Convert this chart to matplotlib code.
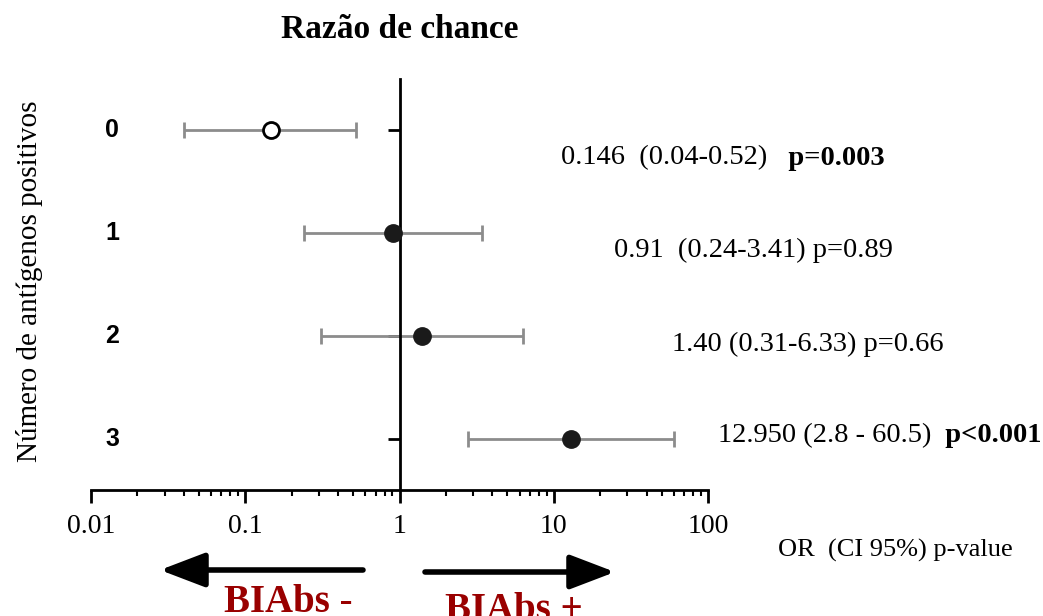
import matplotlib
matplotlib.use("Agg")
import matplotlib.pyplot as plt

# data
categories = ["0", "1", "2", "3"]
odds_ratio = [0.146, 0.91, 1.40, 12.95]
ci_low = [0.04, 0.24, 0.31, 2.8]
ci_high = [0.52, 3.41, 6.33, 60.5]
open_marker = [True, False, False, False]
or_text = ["0.146  (0.04-0.52)", "0.91  (0.24-3.41) p=0.89",
           "1.40 (0.31-6.33) p=0.66", "12.950 (2.8 - 60.5)"]
p_bold = ["   p=0.003", "", "", "  p<0.001"]
xticks = [0.01, 0.1, 1, 10, 100]
xtick_labels = ["0.01", "0.1", "1", "10", "100"]

W, H = 1043, 616
serif = "Liberation Serif"

fig = plt.figure(figsize=(W / 100, H / 100), dpi=100)
ax = fig.add_axes([91 / W, 1 - 490 / H, 617 / W, 411 / H])

ax.set_xscale("log")
ax.set_xlim(0.01, 100)
ax.set_ylim(3.5, -0.5)

for i, (o, lo, hi) in enumerate(zip(odds_ratio, ci_low, ci_high)):
    ax.errorbar(o, i, xerr=[[o - lo], [hi - o]], fmt="none", ecolor="#8c8c8c",
                elinewidth=2, capsize=6, capthick=2, zorder=2)
    if open_marker[i]:
        ax.plot(o, i, "o", ms=11.5, mfc="white", mec="black", mew=2, zorder=3)
    else:
        ax.plot(o, i, "o", ms=12.5, color="#1a1a1a", zorder=3)

# spines
for s in ["top", "right"]:
    ax.spines[s].set_visible(False)
ax.spines["left"].set_position(("data", 1))
ax.spines["left"].set_linestyle((0, (2, 1)))
ax.spines["left"].set_linewidth(2)
ax.spines["bottom"].set_linewidth(2)

ax.set_yticks(range(len(categories)))
ax.set_yticklabels([])
ax.tick_params(axis="y", length=9, width=2, direction="out")
ax.set_xticks(xticks)
ax.set_xticklabels(xtick_labels, fontfamily=serif, fontsize=20)
ax.tick_params(axis="x", which="major", length=9, width=2, pad=8)
ax.tick_params(axis="x", which="minor", length=4.5, width=1.5)

for i, c in enumerate(categories):
    ax.text(0.034, i, c, transform=ax.get_yaxis_transform(), ha="center",
            va="center", fontfamily="Liberation Sans", fontweight="bold", fontsize=18)

# annotations on the right
text_x = [561, 614, 672, 718]
text_y = [158, 250, 344, 436]
for t, p, x, y in zip(or_text, p_bold, text_x, text_y):
    t1 = fig.text(x / W, 1 - y / H, t, ha="left", va="center",
                  fontfamily=serif, fontsize=20.5)
    if p:
        ax.annotate(p, xy=(1, 0.5), xycoords=t1, ha="left", va="center",
                    fontfamily=serif, fontsize=20.5, fontweight="bold")

fig.text(400 / W, 1 - 30 / H, "Razão de chance", ha="center", va="center",
         fontfamily=serif, fontweight="bold", fontsize=24)
fig.text(30 / W, 1 - 281 / H, "Número de antígenos positivos", rotation=90,
         ha="center", va="center", fontfamily=serif, fontsize=21)
fig.text(778 / W, 1 - 550 / H, "OR  (CI 95%) p-value", ha="left", va="center",
         fontfamily=serif, fontsize=19)

# direction arrows
arrow = dict(arrowstyle="-|>,head_length=1.1,head_width=0.42", lw=4,
             color="black", mutation_scale=25, shrinkA=0, shrinkB=0)
ax.annotate("", xy=(160, H - 570), xytext=(363, H - 570),
            xycoords="figure pixels", textcoords="figure pixels", arrowprops=arrow)
ax.annotate("", xy=(615, H - 572), xytext=(425, H - 572),
            xycoords="figure pixels", textcoords="figure pixels", arrowprops=arrow)

fig.text(288 / W, 1 - 612 / H, "BIAbs -", ha="center", va="baseline",
         fontfamily=serif, fontweight="bold", fontsize=28, color="#990000")
fig.text(514 / W, 1 - 620 / H, "BIAbs +", ha="center", va="baseline",
         fontfamily=serif, fontweight="bold", fontsize=28, color="#990000")

fig.savefig("out.png", dpi=100)
